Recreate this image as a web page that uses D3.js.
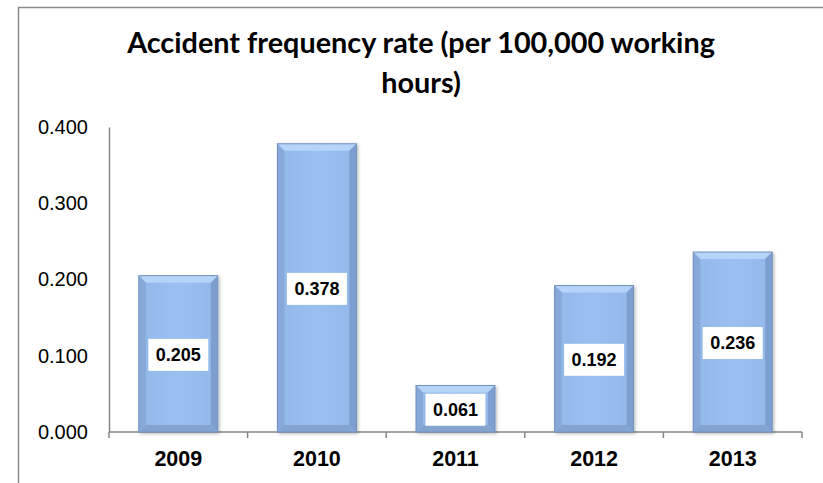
<!DOCTYPE html>
<html>
<head>
<meta charset="utf-8">
<script src="https://cdn.jsdelivr.net/npm/d3@7"></script>
<style>
  body { margin: 0; background: #fff; }
  .axis path, .axis line { stroke: #868686; }
  .axis--y text { font-family: 'Liberation Sans', Arial, sans-serif; font-size: 20px; fill: #000; }
  .axis--x text { font-family: 'Liberation Sans', Arial, sans-serif; font-size: 21.5px; font-weight: bold; fill: #000; }
  .title { font-family: Lato, 'Noto Sans', sans-serif; font-weight: bold; font-size: 28.8px; fill: #000; }
  .bar-label { font-family: 'Liberation Sans', Arial, sans-serif; font-weight: bold; font-size: 18px; fill: #000; }
</style>
</head>
<body>
<script>
// chart data
var years = ['2009', '2010', '2011', '2012', '2013'];
var rates = [0.205, 0.378, 0.061, 0.192, 0.236];
var yTicks = [0, 0.1, 0.2, 0.3, 0.4];
var titleLines = ['Accident frequency rate (per 100,000 working', 'hours)'];

var dataset = years.map(function(y, i) { return { year: y, rate: rates[i] }; });

var width = 823,
	height = 483;

var svg = d3.select('body').append('svg')
	.attr('width', width)
	.attr('height', height);

// chart frame
svg.append('rect')
	.attr('x', 18.5)
	.attr('y', 7.5)
	.attr('width', 1000)
	.attr('height', 1000)
	.attr('fill', '#fff')
	.attr('stroke', '#8c8c8c')
	.attr('stroke-width', 1.5);

// title
svg.append('g').selectAll('text')
	.data(titleLines)
	.enter().append('text')
	.attr('class', 'title')
	.attr('x', 421)
	.attr('y', function(d, i) { return 53 + i * 40; })
	.attr('text-anchor', 'middle')
	.text(function(d) { return d; });

var plot = { left: 109, right: 802, top: 127, bottom: 432 };

var xScale = d3.scaleBand().domain(years).range([plot.left, plot.right]).padding(0),
	yScale = d3.scaleLinear().domain([0, 0.4]).range([plot.bottom, plot.top]);

var barW = xScale.bandwidth() * 0.57,
	bevel = 7;

// gradient defs for the bevelled bars
var defs = svg.append('defs');
var grad = defs.append('linearGradient').attr('id', 'barFill')
	.attr('x1', 0).attr('x2', 1).attr('y1', 0).attr('y2', 0);
grad.append('stop').attr('offset', '0%').attr('stop-color', '#92b8e9');
grad.append('stop').attr('offset', '50%').attr('stop-color', '#99c0f0');
grad.append('stop').attr('offset', '100%').attr('stop-color', '#92b8e9');

var shadow = defs.append('filter').attr('id', 'shadow')
	.attr('x', '-20%').attr('y', '-20%').attr('width', '140%').attr('height', '140%');
shadow.append('feDropShadow').attr('dx', 1.5).attr('dy', 1.5).attr('stdDeviation', 1.5)
	.attr('flood-color', '#000').attr('flood-opacity', 0.25);

// y axis
svg.append('g')
	.attr('class', 'axis axis--y')
	.attr('transform', 'translate(' + plot.left + ',0)')
	.call(d3.axisLeft(yScale).tickValues(yTicks).tickFormat(d3.format('.3f')).tickSize(0).tickPadding(21))
	.call(function(g) { g.select('.domain').attr('stroke-width', 1.5); });

// x axis labels
svg.append('g')
	.attr('class', 'axis axis--x')
	.attr('transform', 'translate(0,' + plot.bottom + ')')
	.call(d3.axisBottom(xScale).tickSize(0).tickPadding(19))
	.call(function(g) { g.select('.domain').remove(); });

// x axis line and boundary ticks
var xAxisG = svg.append('g').attr('class', 'axis');
xAxisG.append('line')
	.attr('x1', plot.left).attr('x2', plot.right)
	.attr('y1', plot.bottom).attr('y2', plot.bottom)
	.attr('stroke-width', 1.5);
xAxisG.selectAll('.tick-mark')
	.data(years.map(function(y) { return xScale(y); }).concat([plot.right]))
	.enter().append('line')
	.attr('class', 'tick-mark')
	.attr('x1', function(d) { return d; }).attr('x2', function(d) { return d; })
	.attr('y1', plot.bottom).attr('y2', plot.bottom + 6)
	.attr('stroke-width', 1.5);

// bars
var bars = svg.selectAll('.bar')
	.data(dataset)
	.enter().append('g')
	.attr('class', 'bar')
	.attr('filter', 'url(#shadow)');

function bx(d) { return xScale(d.year) + (xScale.bandwidth() - barW) / 2; }
function by(d) { return yScale(d.rate); }
function bh(d) { return plot.bottom - yScale(d.rate); }

bars.append('rect')
	.attr('x', bx)
	.attr('y', by)
	.attr('width', barW)
	.attr('height', bh)
	.attr('fill', 'url(#barFill)');

// bevel faces: top, left, right, bottom
function face(d, which) {
	var x0 = bx(d), y0 = by(d), x1 = x0 + barW, y1 = plot.bottom, b = Math.min(bevel, bh(d) / 2);
	var pts;
	if (which === 'top') pts = [[x0, y0], [x1, y0], [x1 - b, y0 + b], [x0 + b, y0 + b]];
	if (which === 'left') pts = [[x0, y0], [x0 + b, y0 + b], [x0 + b, y1 - b], [x0, y1]];
	if (which === 'right') pts = [[x1, y0], [x1 - b, y0 + b], [x1 - b, y1 - b], [x1, y1]];
	if (which === 'bottom') pts = [[x0, y1], [x0 + b, y1 - b], [x1 - b, y1 - b], [x1, y1]];
	return pts.map(function(p) { return p.join(','); }).join(' ');
}
var faceColors = { top: '#b6d4f7', left: '#86a9d9', right: '#7c9fcf', bottom: '#84a4d0' };
['top', 'left', 'right', 'bottom'].forEach(function(w) {
	bars.append('polygon')
		.attr('points', function(d) { return face(d, w); })
		.attr('fill', faceColors[w]);
});

bars.append('rect')
	.attr('x', bx)
	.attr('y', by)
	.attr('width', barW)
	.attr('height', bh)
	.attr('fill', 'none')
	.attr('stroke', '#7391bf')
	.attr('stroke-width', 1);

// value labels in white boxes
var labels = svg.selectAll('.bar-label-g')
	.data(dataset)
	.enter().append('g')
	.attr('class', 'bar-label-g')
	.attr('transform', function(d) {
		return 'translate(' + (xScale(d.year) + xScale.bandwidth() / 2) + ',' + (yScale(d.rate / 2) + 1) + ')';
	});

labels.append('rect')
	.attr('x', -30)
	.attr('y', -16)
	.attr('width', 60)
	.attr('height', 32)
	.attr('fill', '#fff');

labels.append('text')
	.attr('class', 'bar-label')
	.attr('text-anchor', 'middle')
	.attr('dy', '0.35em')
	.text(function(d) { return d3.format('.3f')(d.rate); });
</script>
</body>
</html>
